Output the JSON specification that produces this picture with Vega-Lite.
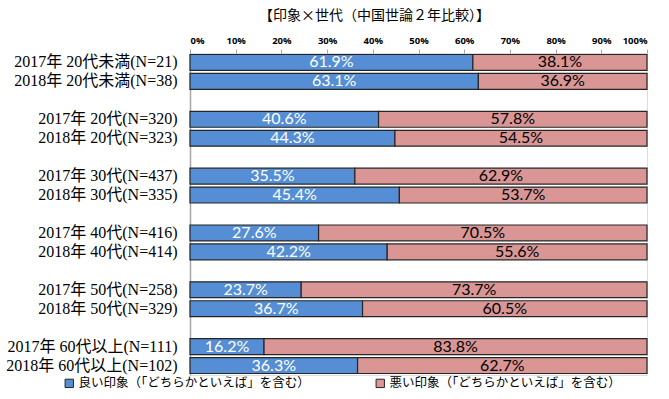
{
  "$schema": "https://vega.github.io/schema/vega-lite/v6.json",
  "width": 457,
  "height": 322,
  "autosize": "none",
  "padding": {"left": 190, "top": 53, "right": 22, "bottom": 24},
  "background": "white",
  "title": {
    "text": "【印象×世代（中国世論２年比較）】",
    "font": "Noto Sans CJK JP",
    "fontSize": 14,
    "fontWeight": "normal",
    "color": "#000",
    "anchor": "middle",
    "dx": -44,
    "offset": 12
  },
  "data": {
    "values": [
      {"label": "2017年 20代未満(N=21)", "type": "良い印象（「どちらかといえば」を含む）", "value": 61.9},
      {"label": "2017年 20代未満(N=21)", "type": "悪い印象（「どちらかといえば」を含む）", "value": 38.1},
      {"label": "2018年 20代未満(N=38)", "type": "良い印象（「どちらかといえば」を含む）", "value": 63.1},
      {"label": "2018年 20代未満(N=38)", "type": "悪い印象（「どちらかといえば」を含む）", "value": 36.9},
      {"label": "2017年 20代(N=320)", "type": "良い印象（「どちらかといえば」を含む）", "value": 40.6},
      {"label": "2017年 20代(N=320)", "type": "悪い印象（「どちらかといえば」を含む）", "value": 57.8},
      {"label": "2018年 20代(N=323)", "type": "良い印象（「どちらかといえば」を含む）", "value": 44.3},
      {"label": "2018年 20代(N=323)", "type": "悪い印象（「どちらかといえば」を含む）", "value": 54.5},
      {"label": "2017年 30代(N=437)", "type": "良い印象（「どちらかといえば」を含む）", "value": 35.5},
      {"label": "2017年 30代(N=437)", "type": "悪い印象（「どちらかといえば」を含む）", "value": 62.9},
      {"label": "2018年 30代(N=335)", "type": "良い印象（「どちらかといえば」を含む）", "value": 45.4},
      {"label": "2018年 30代(N=335)", "type": "悪い印象（「どちらかといえば」を含む）", "value": 53.7},
      {"label": "2017年 40代(N=416)", "type": "良い印象（「どちらかといえば」を含む）", "value": 27.6},
      {"label": "2017年 40代(N=416)", "type": "悪い印象（「どちらかといえば」を含む）", "value": 70.5},
      {"label": "2018年 40代(N=414)", "type": "良い印象（「どちらかといえば」を含む）", "value": 42.2},
      {"label": "2018年 40代(N=414)", "type": "悪い印象（「どちらかといえば」を含む）", "value": 55.6},
      {"label": "2017年 50代(N=258)", "type": "良い印象（「どちらかといえば」を含む）", "value": 23.7},
      {"label": "2017年 50代(N=258)", "type": "悪い印象（「どちらかといえば」を含む）", "value": 73.7},
      {"label": "2018年 50代(N=329)", "type": "良い印象（「どちらかといえば」を含む）", "value": 36.7},
      {"label": "2018年 50代(N=329)", "type": "悪い印象（「どちらかといえば」を含む）", "value": 60.5},
      {"label": "2017年 60代以上(N=111)", "type": "良い印象（「どちらかといえば」を含む）", "value": 16.2},
      {"label": "2017年 60代以上(N=111)", "type": "悪い印象（「どちらかといえば」を含む）", "value": 83.8},
      {"label": "2018年 60代以上(N=102)", "type": "良い印象（「どちらかといえば」を含む）", "value": 36.3},
      {"label": "2018年 60代以上(N=102)", "type": "悪い印象（「どちらかといえば」を含む）", "value": 62.7}
    ]
  },
  "transform": [
    {"stack": "value", "groupby": ["label"], "sort": [{"field": "type", "order": "descending"}], "offset": "normalize", "as": ["v0", "v1"]},
    {"calculate": "(datum.v0 + datum.v1) / 2", "as": "mid"},
    {"calculate": "format(datum.value, '.1f') + '%'", "as": "txt"}
  ],
  "encoding": {
    "y": {
      "field": "label",
      "type": "nominal",
      "title": null,
      "scale": {
        "domain": ["2017年 20代未満(N=21)", "2018年 20代未満(N=38)", "gap1", "2017年 20代(N=320)", "2018年 20代(N=323)", "gap2", "2017年 30代(N=437)", "2018年 30代(N=335)", "gap3", "2017年 40代(N=416)", "2018年 40代(N=414)", "gap4", "2017年 50代(N=258)", "2018年 50代(N=329)", "gap5", "2017年 60代以上(N=111)", "2018年 60代以上(N=102)"],
        "paddingInner": 0.16,
        "paddingOuter": 0.08
      },
      "axis": {
        "labelExpr": "indexof(datum.value, 'gap') == 0 ? '' : datum.value",
        "labelFont": "Liberation Serif, Noto Sans CJK JP",
        "labelFontSize": 16,
        "labelColor": "#000",
        "labelPadding": 13,
        "ticks": false,
        "domain": true,
        "domainColor": "#a6a6a6",
        "domainWidth": 1.5,
        "grid": false
      }
    }
  },
  "layer": [
    {
      "mark": {"type": "bar", "stroke": "#262626", "strokeWidth": 1.2},
      "encoding": {
        "x": {
          "field": "v0",
          "type": "quantitative",
          "title": null,
          "scale": {"domain": [0, 1], "nice": false},
          "axis": {
            "orient": "top",
            "format": ".0%",
            "values": [0, 0.1, 0.2, 0.3, 0.4, 0.5, 0.6, 0.7, 0.8, 0.9, 1],
            "labelOverlap": false,
            "labelFont": "Open Sans",
            "labelFontWeight": "bold",
            "labelFontSize": 9.5,
            "labelColor": "#000",
            "labelPadding": 4,
            "tickColor": "#a6a6a6",
            "tickSize": 4,
            "domain": false,
            "grid": false
          }
        },
        "x2": {"field": "v1"},
        "color": {
          "field": "type",
          "type": "nominal",
          "scale": {
            "domain": ["良い印象（「どちらかといえば」を含む）", "悪い印象（「どちらかといえば」を含む）"],
            "range": ["#558ed5", "#d99694"]
          },
          "legend": {
            "title": null,
            "orient": "none",
            "direction": "horizontal",
            "legendX": -127,
            "legendY": 324,
            "symbolType": "square",
            "symbolSize": 70,
            "symbolStrokeColor": "#262626",
            "symbolStrokeWidth": 1,
            "symbolOpacity": 1,
            "labelFont": "Noto Sans CJK JP",
            "labelFontSize": 12.5,
            "labelColor": "#000",
            "labelLimit": 300,
            "columnPadding": 64,
            "symbolOffset": 0,
            "labelOffset": 3
          }
        }
      }
    },
    {
      "mark": {"type": "text", "font": "Lato", "fontSize": 16, "baseline": "middle", "align": "center"},
      "encoding": {
        "x": {"field": "mid", "type": "quantitative"},
        "text": {"field": "txt"},
        "color": {
          "condition": {"test": "datum.type == '良い印象（「どちらかといえば」を含む）'", "value": "#ffffff"},
          "value": "#000000"
        }
      }
    }
  ]
}
